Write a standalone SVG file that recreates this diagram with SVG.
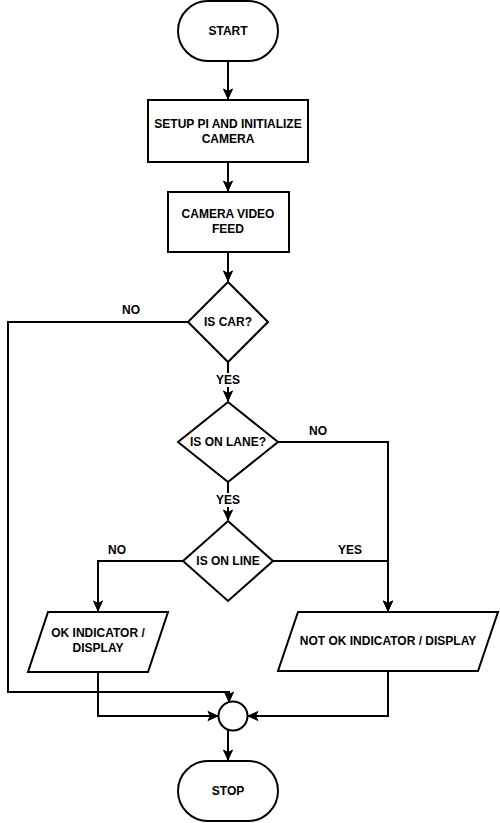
<svg xmlns="http://www.w3.org/2000/svg" width="500" height="823" viewBox="0 0 500 823">
  <style>
    .shape { fill: #ffffff; stroke: #000000; stroke-width: 2; }
    .edge { fill: none; stroke: #000000; stroke-width: 2; }
    .label { font-family: "Liberation Sans", Arial, sans-serif; font-size: 12px; font-weight: bold; fill: #000000; text-anchor: middle; dominant-baseline: central; }
  </style>
  <defs>
    <marker id="arrow" markerUnits="userSpaceOnUse" markerWidth="12" markerHeight="12" viewBox="0 0 12 12" refX="11" refY="6" orient="auto">
      <path d="M1,1.5 L11,6 L1,10.5 L3.5,6 Z" fill="#000000" stroke="#000000" stroke-width="1"/>
    </marker>
  </defs>

  <!-- connectors -->
  <g id="connectors">
    <path class="edge" d="M228,61 V99" marker-end="url(#arrow)"/>
    <path class="edge" d="M228,162 V191" marker-end="url(#arrow)"/>
    <path class="edge" d="M228,252 V281" marker-end="url(#arrow)"/>
    <path class="edge" d="M228,362 V401" marker-end="url(#arrow)"/>
    <path class="edge" d="M188,322 H8 V692 H229 V702" marker-end="url(#arrow)"/>
    <path class="edge" d="M228,482 V520" marker-end="url(#arrow)"/>
    <path class="edge" d="M278,442 H388 V611" marker-end="url(#arrow)"/>
    <path class="edge" d="M183,561 H98 V611" marker-end="url(#arrow)"/>
    <path class="edge" d="M273,561 H388 V611" marker-end="url(#arrow)"/>
    <path class="edge" d="M98,672 V716 H218" marker-end="url(#arrow)"/>
    <path class="edge" d="M388,672 V716 H248" marker-end="url(#arrow)"/>
    <path class="edge" d="M228,730 V760" marker-end="url(#arrow)"/>

    <!-- edge labels -->
    <rect x="214" y="373" width="28" height="14" fill="#ffffff"/>
    <text class="label" x="228" y="380">YES</text>
    <rect x="214" y="493" width="28" height="14" fill="#ffffff"/>
    <text class="label" x="228" y="500">YES</text>
    <text class="label" x="131" y="310">NO</text>
    <text class="label" x="318" y="431">NO</text>
    <text class="label" x="117" y="550">NO</text>
    <text class="label" x="350" y="550">YES</text>
  </g>

  <g id="start">
    <rect class="shape" x="178" y="1" width="100" height="60" rx="30" ry="30"/>
    <text class="label" x="228" y="31">START</text>
  </g>

  <g id="setup">
    <rect class="shape" x="148" y="100" width="160" height="62"/>
    <text class="label" x="228" y="124">SETUP PI AND INITIALIZE</text>
    <text class="label" x="228" y="139">CAMERA</text>
  </g>

  <g id="camera-feed">
    <rect class="shape" x="168" y="192" width="121" height="60"/>
    <text class="label" x="228" y="214">CAMERA VIDEO</text>
    <text class="label" x="228" y="229">FEED</text>
  </g>

  <g id="is-car">
    <polygon class="shape" points="228,282 268,322 228,362 188,322"/>
    <text class="label" x="228" y="322">IS CAR?</text>
  </g>

  <g id="is-on-lane">
    <polygon class="shape" points="228,402 278,442 228,482 178,442"/>
    <text class="label" x="228" y="442">IS ON LANE?</text>
  </g>

  <g id="is-on-line">
    <polygon class="shape" points="228,521 273,561 228,601 183,561"/>
    <text class="label" x="228" y="561">IS ON LINE</text>
  </g>

  <g id="ok-display">
    <polygon class="shape" points="48,612 168,612 148,672 28,672"/>
    <text class="label" x="98" y="633">OK INDICATOR /</text>
    <text class="label" x="98" y="648">DISPLAY</text>
  </g>

  <g id="not-ok-display">
    <polygon class="shape" points="298,612 498,612 478,671 278,671"/>
    <text class="label" x="388" y="641">NOT OK INDICATOR / DISPLAY</text>
  </g>

  <g id="merge">
    <circle class="shape" cx="233" cy="716" r="14.5"/>
  </g>

  <g id="stop">
    <rect class="shape" x="178" y="761" width="100" height="60" rx="30" ry="30"/>
    <text class="label" x="228" y="791">STOP</text>
  </g>
</svg>
